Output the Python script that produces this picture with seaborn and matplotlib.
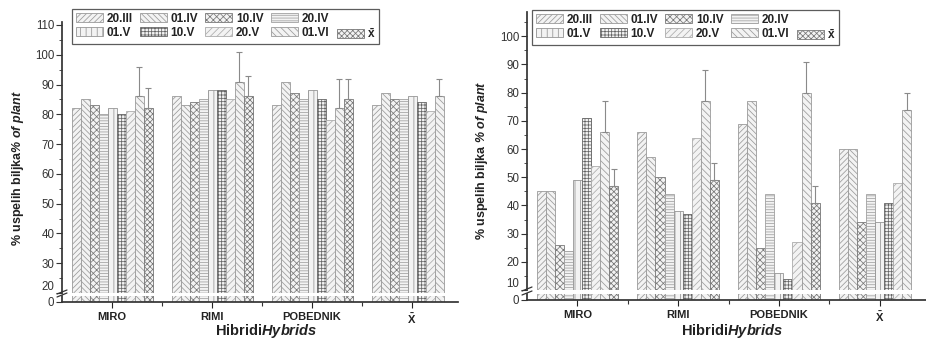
import numpy as np
import pandas as pd
import matplotlib
matplotlib.use("Agg")
import matplotlib.pyplot as plt
import seaborn as sns
from matplotlib.patches import Patch
from matplotlib.ticker import MultipleLocator, FixedLocator

nan = np.nan
hybrids = ["MIRO", "RIMI", "POBEDNIK", r"$\mathbf{\bar{X}}$"]
dates = ["20.III", "01.IV", "10.IV", "20.IV", "01.V", "10.V", "20.V", "01.VI", r"$\mathbf{\bar{x}}$"]

# Left panel values (per date, in hybrid order)
left_vals = {
    "20.III": [82, 86, 83, 83],
    "01.IV": [85, 83, 91, 87],
    "10.IV": [83, 84, 87, 85],
    "20.IV": [80, 85, 85, 85],
    "01.V": [82, 88, 88, 86],
    "10.V": [80, 88, 85, 84],
    "20.V": [81, 85, 78, 81],
    "01.VI": [86, 91, 82, 86],
    "mean": [82, 86, 85, nan],
}
left_err_01VI = [10, 10, 10, 6]
left_err_mean = [7, 7, 7, nan]

# Right panel values
right_vals = {
    "20.III": [45, 66, 69, 60],
    "01.IV": [45, 57, 77, 60],
    "10.IV": [26, 50, 25, 34],
    "20.IV": [24, 44, 44, 44],
    "01.V": [49, 38, 16, 34],
    "10.V": [71, 37, 14, 41],
    "20.V": [54, 64, 27, 48],
    "01.VI": [66, 77, 80, 74],
    "mean": [47, 49, 41, nan],
}
right_err_01VI = [11, 11, 11, 6]
right_err_mean = [6, 6, 6, nan]

hatches = ["//////", "\\\\\\\\\\\\", "xxxxx", "------", "|||", "+++++", "/////", "\\\\\\\\\\", "xxxxxx"]
hatch_cols = ["#9a9a9a", "#9a9a9a", "#7a7a7a", "#a0a0a0", "#959595", "#656565", "#acacac", "#9a9a9a", "#777777"]
FILL = "#f3f3f3"
GROUP_W = 0.81

sns.set_theme(style="white")
plt.rcParams["font.family"] = ["Liberation Sans", "DejaVu Sans"]
plt.rcParams["mathtext.fontset"] = "custom"
plt.rcParams["mathtext.rm"] = "Liberation Sans"
plt.rcParams["mathtext.it"] = "Liberation Sans:italic"
plt.rcParams["mathtext.bf"] = "Liberation Sans:bold"
plt.rcParams["mathtext.bfit"] = "Liberation Sans:bold:italic"
plt.rcParams["hatch.linewidth"] = 0.55

W, H = 926, 341
fig = plt.figure(figsize=(W / 100, H / 100), dpi=100)


def rect(x0, y0, x1, y1):
    return [x0 / W, 1 - y1 / H, (x1 - x0) / W, (y1 - y0) / H]


def make_df(vals):
    rows = []
    for key, d in zip(vals.keys(), dates):
        for h, v in zip(hybrids, vals[key]):
            if not np.isnan(v):
                rows.append({"hybrid": h, "date": d, "value": v})
    return pd.DataFrame(rows)


def draw_bars(ax, df):
    sns.barplot(data=df, x="hybrid", y="value", hue="date", order=hybrids,
                hue_order=dates, palette=[FILL] * len(dates), width=GROUP_W,
                errorbar=None, legend=False, ax=ax, linewidth=0.6,
                edgecolor="#808080", saturation=1)
    n = len(dates)
    bw = GROUP_W / n
    info = []
    for p in ax.patches:
        if p.get_height() == 0 and p.get_width() == 0:
            continue
        xc = p.get_x() + p.get_width() / 2
        g = int(round(xc))
        hi = int(round((xc - g + GROUP_W / 2) / bw - 0.5))
        hi = min(max(hi, 0), n - 1)
        p.set_hatch(hatches[hi])
        p.set_edgecolor(hatch_cols[hi])
        p.set_facecolor(FILL)
        info.append((g, hi, xc, p.get_height()))
    ax.set_xlabel("")
    ax.set_ylabel("")
    return info


def panel(vals, err01, errm, xl, xr, top_y, brk_top, brk_bot, bot_y, ylo, yhi, xlabel, ylabel, yl_x, yl_y, leg_xy):
    df = make_df(vals)
    axt = fig.add_axes(rect(xl, top_y, xr, brk_top))
    axb = fig.add_axes(rect(xl, brk_bot, xr, bot_y))
    info = draw_bars(axt, df)
    draw_bars(axb, df)
    xlim = (-0.5, 3.46)
    for a in (axt, axb):
        a.set_xlim(*xlim)
        for s in ("top", "right"):
            a.spines[s].set_visible(False)
        a.spines["left"].set_color("#333333")
        a.spines["bottom"].set_color("#333333")
    axt.spines["bottom"].set_visible(False)
    axt.set_ylim(ylo, yhi)
    axt.yaxis.set_minor_locator(MultipleLocator(5))
    axt.set_yticks([t for t in np.arange(ylo, yhi + 0.1, 10)])
    axt.tick_params(axis="y", which="major", direction="out", length=4, width=0.8,
                    labelsize=8.3, pad=1.5, colors="#333333", left=True)
    axt.tick_params(axis="y", which="minor", direction="out", length=2, width=0.6, left=True, colors="#333333")
    axt.tick_params(axis="x", bottom=False, labelbottom=False)
    axt.get_yticklabels()[0].set_va("bottom")
    axb.set_ylim(0, 2)
    axb.set_yticks([0])
    axb.tick_params(axis="y", direction="out", length=4, width=0.8, labelsize=8.3, pad=1.5,
                    colors="#333333", left=True)
    axb.xaxis.set_minor_locator(FixedLocator([0.5, 1.5, 2.5]))
    axb.tick_params(axis="x", which="major", direction="out", length=4, width=0.8, bottom=True,
                    labelsize=8, pad=3, colors="#222222")
    axb.tick_params(axis="x", which="minor", direction="out", length=3, width=0.8, bottom=True, colors="#333333")
    for t in axb.get_xticklabels():
        t.set_fontweight("bold")
    # error bars (upper only) from bar positions
    keys = list(vals.keys())
    for g, hi, xc, hgt in info:
        key = keys[hi]
        e = err01[g] if key == "01.VI" else (errm[g] if key == "mean" else nan)
        if not np.isnan(e):
            axt.errorbar([xc], [hgt], yerr=[[0], [e]], fmt="none", ecolor="#8a8a8a",
                         elinewidth=0.8, capsize=2.5, capthick=0.8)
    # break marks on the y axis
    x0 = xl / W
    for yy in (brk_top, brk_bot):
        yf = 1 - (yy - 1) / H
        fig.add_artist(plt.Line2D([x0 - 5 / W, x0 + 5 / W], [yf - 2 / H, yf + 2 / H],
                                  color="#333333", lw=0.9))
    fig.text(xlabel[0] / W, 1 - xlabel[1] / H,
             r"$\mathbf{Hibridi}\mathbfit{Hybrids}$", ha="center", va="center",
             fontsize=10.5, color="#222222")
    fig.text(yl_x / W, 1 - yl_y / H, ylabel, rotation=90, ha="center", va="center",
             fontsize=9, color="#222222")
    handles = [Patch(facecolor=FILL, edgecolor=hatch_cols[i], hatch=hatches[i], lw=0.6, label=dates[i])
               for i in range(len(dates))]
    blank = Patch(visible=False, label=" ")
    order = [handles[0], handles[4], handles[1], handles[5], handles[2], handles[6],
             handles[3], handles[7], blank, handles[8]]
    leg = fig.legend(handles=order, labels=[h.get_label() for h in order], ncol=5,
                     loc="upper left", bbox_to_anchor=(leg_xy[0] / W, 1 - leg_xy[1] / H),
                     frameon=True, fancybox=False, edgecolor="#333333", fontsize=8.5,
                     handlelength=2.3, handleheight=0.75, handletextpad=0.3,
                     columnspacing=0.62, labelspacing=0.2, borderpad=0.3,
                     borderaxespad=0)
    leg.get_frame().set_linewidth(0.9)
    for t in leg.get_texts():
        t.set_fontweight("bold")
        t.set_color("#222222")


panel(left_vals, left_err_01VI, left_err_mean, 62, 458, 22, 293, 296, 302, 20, 111,
      (266, 331), r"$\mathbf{\%\ uspelih\ biljka}\mathbfit{\%\ of\ plant}$", 18, 168, (72, 9))
panel(right_vals, right_err_01VI, right_err_mean, 527, 926, 12, 290, 294, 300, 10, 108.6,
      (732, 331), r"$\mathbf{\%\ uspelih\ biljka\ }\mathbfit{\%\ of\ plant}$", 482, 160, (532, 10))

fig.savefig("out.png", dpi=100)
